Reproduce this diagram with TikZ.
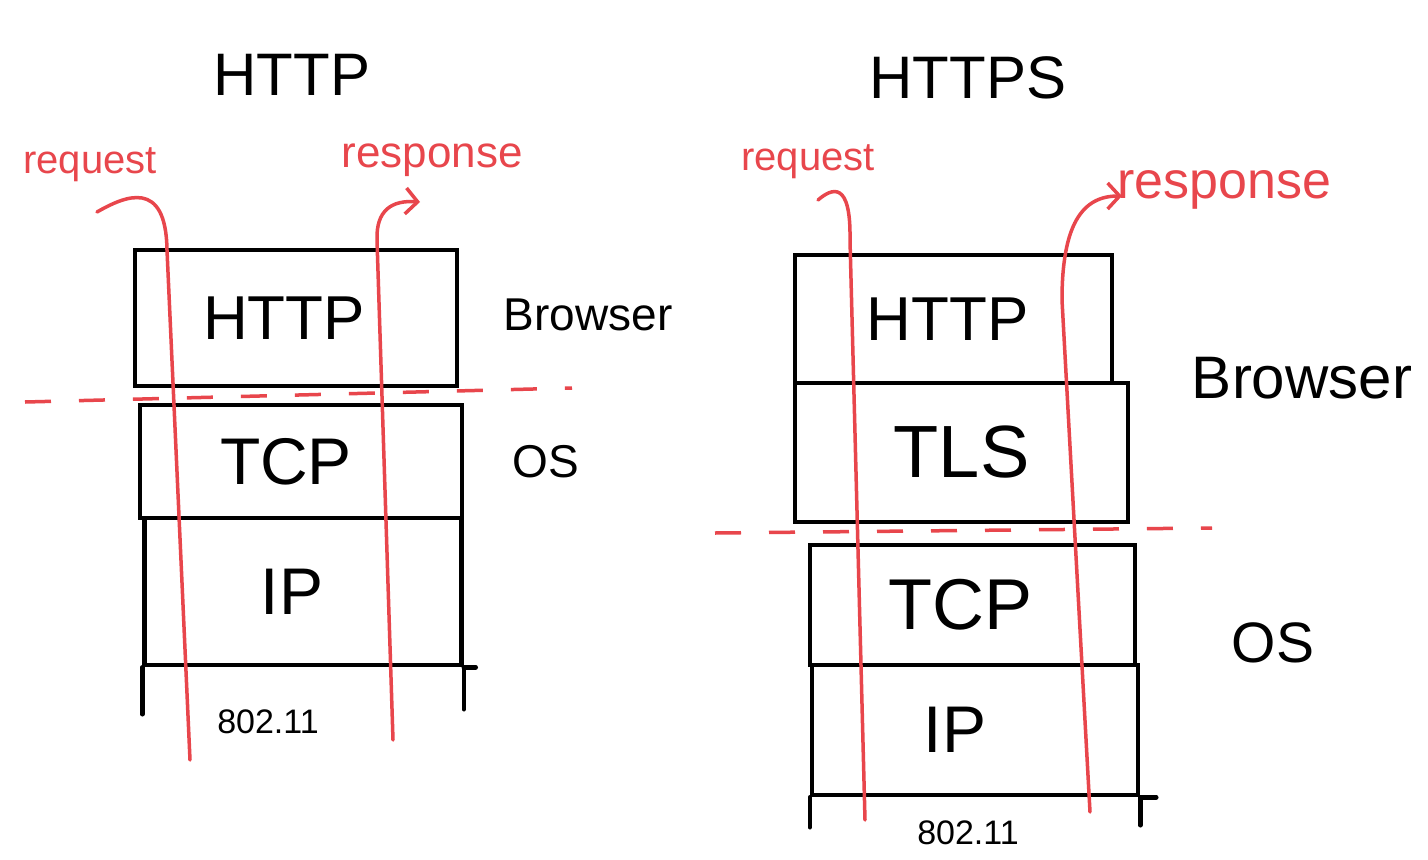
\documentclass[tikz,border=0pt]{standalone}
\usepackage{fontspec}
\setmainfont{Liberation Sans}
\usetikzlibrary{arrows.meta}
\definecolor{pen}{RGB}{232,70,76}
\newcommand{\fs}[1]{\fontsize{#1}{#1}\selectfont}
\newcommand{\padr}[1]{\rule{#1}{0pt}}
\tikzset{
  layerbox/.style={draw=black, line width=4.5pt, inner sep=0pt, font=\fs{66}},
  ext/.style={draw=black, line width=4.5pt, line cap=round},
  redpath/.style={draw=pen, line width=3.5pt, line cap=round},
  resparrow/.style={redpath, -{Straight Barb[length=12pt,width=26pt,line width=3.5pt]}},
  redsplit/.style={draw=pen, line width=3.5pt, dash pattern=on 26pt off 28pt},
  title/.style={font=\fs{60}},
  side/.style={font=\fs{46}},
  redlabel/.style={text=pen, font=\fs{42}},
  phy/.style={font=\fs{34}}
}
\begin{document}
\begin{tikzpicture}[x=1pt,y=-1pt]
\useasboundingbox[fill=white] (0,0) rectangle (1428,860);

% ---------- left: HTTP ----------
\node[title] (ltitle) at (292,75) {HTTP};
\node[layerbox, minimum width=322pt, minimum height=136pt, font=\fs{62}] (lhttp) at (296,318) {HTTP\padr{24pt}};
\node[layerbox, minimum width=322pt, minimum height=113pt] (ltcp) at (301,461.5) {TCP\padr{30pt}};
\node[layerbox, minimum width=317pt, minimum height=147pt] (lip) at (303,591.5) {IP\padr{22pt}};
\draw[ext] (lip.south west) -- ++(0,47);
\draw[ext] (lip.south east) -- ++(0,42);
\draw[ext] (lip.south east) -- ++(12,0);
\node[phy] (lphy) at (268,722) {802.11};
\node[side] (lbrowser) at (588,315) {Browser};
\node[side] (los) at (546,462) {OS};

\coordinate (lsplitA) at (25,402);
\coordinate (lsplitB) at (572,388);
\draw[redsplit] (lsplitA) -- (lsplitB);

\node[redlabel, font=\fs{40}] (lreq) at (90,165) {request};
\node[redlabel, font=\fs{44}] (lresp) at (432,160) {response};
\coordinate (lreqA) at (97,212);
\coordinate (lreqB) at (190,760);
\draw[redpath] (lreqA) .. controls (125,196) and (166,178) .. (167,250) -- (lreqB);
\coordinate (lrespA) at (393,740);
\coordinate (lrespB) at (420,202);
\draw[resparrow] (lrespA) -- (377,240) .. controls (376,210) and (392,200) .. (lrespB);

% ---------- right: HTTPS ----------
\node[title] (rtitle) at (968,78) {HTTPS};
\node[layerbox, minimum width=317pt, minimum height=128pt, font=\fs{62}] (rhttp) at (953.5,319) {HTTP\padr{12pt}};
\node[layerbox, minimum width=333pt, minimum height=139pt, font=\fs{74}] (rtls) at (961.5,452.5) {TLS};
\node[layerbox, minimum width=325pt, minimum height=120pt, font=\fs{72}] (rtcp) at (972.5,605) {TCP\padr{24pt}};
\node[layerbox, minimum width=326pt, minimum height=130pt] (rip) at (975,730) {IP\padr{40pt}};
\draw[ext] (rip.south west) -- ++(0,30);
\draw[ext] (rip.south east) -- ++(0,28);
\draw[ext] (rip.south east) -- ++(16,0);
\node[phy] (rphy) at (968,833) {802.11};
\node[side, font=\fs{60}] (rbrowser) at (1302,378) {Browser};
\node[side, font=\fs{57}] (ros) at (1273,643) {OS};

\coordinate (rsplitA) at (715,533);
\coordinate (rsplitB) at (1212,528);
\draw[redsplit] (rsplitA) -- (rsplitB);

\node[redlabel, font=\fs{40}] (rreq) at (808,162) {request};
\node[redlabel, font=\fs{52}] (rresp) at (1224,190) {response};
\coordinate (rreqA) at (818,200);
\coordinate (rreqB) at (865,820);
\draw[redpath] (rreqA) .. controls (832,188) and (851,180) .. (850,240) -- (rreqB);
\coordinate (rrespA) at (1090,812);
\coordinate (rrespB) at (1122,196);
\draw[resparrow] (rrespA) -- (1062,300) .. controls (1062,225) and (1082,196) .. (rrespB);
\end{tikzpicture}
\end{document}
